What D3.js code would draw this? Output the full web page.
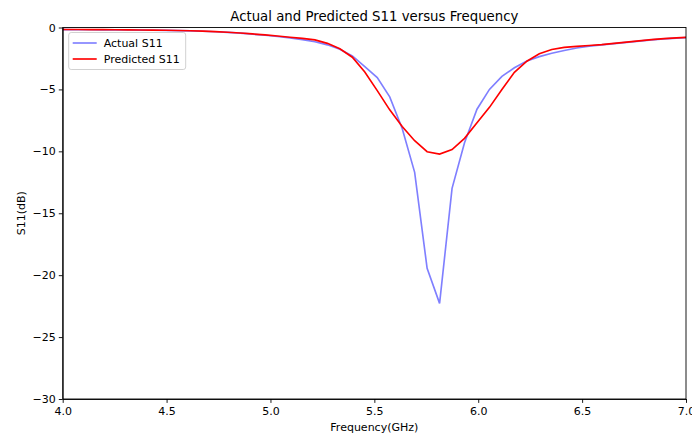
<!DOCTYPE html>
<html>
<head>
<meta charset="utf-8">
<style>
body { margin: 0; background: #fff; }
text { font-family: "DejaVu Sans", sans-serif; fill: #000; }
.axis path, .axis line { stroke: #000; stroke-width: 0.9; }
</style>
</head>
<body>
<svg width="692" height="437"></svg>
<script src="https://d3js.org/d3.v7.min.js"></script>
<script>
// frequency points (GHz)
var freq = [3.954, 4.014, 4.074, 4.134, 4.194, 4.254, 4.314, 4.374, 4.434, 4.494,
            4.554, 4.614, 4.674, 4.734, 4.794, 4.854, 4.914, 4.974, 5.034, 5.094,
            5.154, 5.214, 5.274, 5.334, 5.394, 5.454, 5.514, 5.574, 5.634, 5.694,
            5.754, 5.814, 5.874, 5.934, 5.994, 6.054, 6.114, 6.174, 6.234, 6.294,
            6.354, 6.414, 6.474, 6.534, 6.594, 6.654, 6.714, 6.774, 6.834, 6.894,
            6.954, 7.014];
var actualS11 = [-0.17, -0.17, -0.18, -0.18, -0.19, -0.19, -0.20, -0.21, -0.22, -0.23,
                 -0.25, -0.27, -0.30, -0.34, -0.39, -0.46, -0.54, -0.63, -0.73, -0.84,
                 -0.98, -1.15, -1.40, -1.75, -2.30, -3.16, -4.05, -5.60, -8.15, -11.70,
                 -19.45, -22.28, -12.99, -9.30, -6.60, -5.00, -3.95, -3.25, -2.70, -2.35,
                 -2.08, -1.86, -1.66, -1.50, -1.40, -1.30, -1.20, -1.10, -1.00, -0.92,
                 -0.86, -0.80];
var predictedS11 = [-0.15, -0.16, -0.16, -0.17, -0.17, -0.18, -0.19, -0.20, -0.21, -0.22,
                    -0.24, -0.26, -0.29, -0.33, -0.38, -0.44, -0.52, -0.60, -0.69, -0.79,
                    -0.88, -1.00, -1.28, -1.72, -2.40, -3.60, -5.10, -6.65, -8.00, -9.14,
                    -10.03, -10.22, -9.86, -8.95, -7.70, -6.45, -5.00, -3.62, -2.72, -2.12,
                    -1.78, -1.60, -1.52, -1.45, -1.38, -1.28, -1.18, -1.08, -0.98, -0.90,
                    -0.84, -0.79];
var xTicks = [4.0, 4.5, 5.0, 5.5, 6.0, 6.5, 7.0];
var yTicks = [0, -5, -10, -15, -20, -25, -30];

var svg = d3.select("svg"),
    margin = {top: 27.5, right: 6, bottom: 38, left: 62.7},
    width = +svg.attr("width") - margin.left - margin.right,
    height = +svg.attr("height") - margin.top - margin.bottom,
    g = svg.append("g").attr("transform", "translate(" + margin.left + "," + margin.top + ")");

var x = d3.scaleLinear().domain([4, 7]).range([0, width]);
var y = d3.scaleLinear().domain([-30, 0]).range([height, 0]);

g.append("clipPath").attr("id", "clip")
  .append("rect").attr("width", width).attr("height", height);

var line = function(vals) {
  return d3.line()
    .x(function(d, i) { return x(freq[i]); })
    .y(function(d) { return y(d); })(vals);
};

g.append("path")
    .attr("clip-path", "url(#clip)")
    .attr("d", line(actualS11))
    .attr("fill", "none")
    .attr("stroke", "blue")
    .attr("stroke-opacity", 0.5)
    .attr("stroke-width", 1.65);
g.append("path")
    .attr("clip-path", "url(#clip)")
    .attr("d", line(predictedS11))
    .attr("fill", "none")
    .attr("stroke", "red")
    .attr("stroke-width", 1.65);

var fmt = function(d) { return d3.format(".1f")(d); };
g.append("g")
    .attr("class", "axis")
    .attr("transform", "translate(0," + height + ")")
    .call(d3.axisBottom(x).tickValues(xTicks).tickFormat(fmt).tickSize(3.9).tickSizeOuter(0))
    .call(function(a) { a.selectAll("text").attr("fill", "#000").style("font-size", "11px").attr("dy", "0.85em"); });
g.append("g")
    .attr("class", "axis")
    .call(d3.axisLeft(y).tickValues(yTicks).tickFormat(function(d) { return d < 0 ? "\u2212" + (-d) : d; }).tickSize(3.9).tickSizeOuter(0))
    .call(function(a) { a.selectAll("text").attr("fill", "#000").style("font-size", "11px"); });

// frame
g.append("rect")
    .attr("width", width).attr("height", height)
    .attr("fill", "none").attr("stroke", "#000").attr("stroke-width", 0.9);

svg.append("text")
    .attr("x", margin.left + width / 2)
    .attr("y", 21)
    .attr("text-anchor", "middle")
    .style("font-size", "13.3px")
    .text("Actual and Predicted S11 versus Frequency");
svg.append("text")
    .attr("x", margin.left + width / 2)
    .attr("y", 431)
    .attr("text-anchor", "middle")
    .style("font-size", "11px")
    .text("Frequency(GHz)");
svg.append("text")
    .attr("transform", "translate(25," + (margin.top + height / 2) + ") rotate(-90)")
    .attr("text-anchor", "middle")
    .style("font-size", "11px")
    .text("S11(dB)");

// legend
var legend = g.append("g").attr("transform", "translate(6,5)");
legend.append("rect")
    .attr("width", 117).attr("height", 37).attr("rx", 2.5)
    .attr("fill", "#fff").attr("fill-opacity", 0.8)
    .attr("stroke", "#ccc").attr("stroke-width", 0.9);
var items = [{name: "Actual S11", color: "blue", op: 0.5}, {name: "Predicted S11", color: "red", op: 1}];
items.forEach(function(it, i) {
  var yy = 10.5 + i * 16;
  legend.append("line")
      .attr("x1", 4).attr("x2", 28).attr("y1", yy).attr("y2", yy)
      .attr("stroke", it.color).attr("stroke-opacity", it.op).attr("stroke-width", 1.65);
  legend.append("text")
      .attr("x", 35).attr("y", yy).attr("dy", "0.35em")
      .style("font-size", "11px")
      .text(it.name);
});
</script>
</body>
</html>
